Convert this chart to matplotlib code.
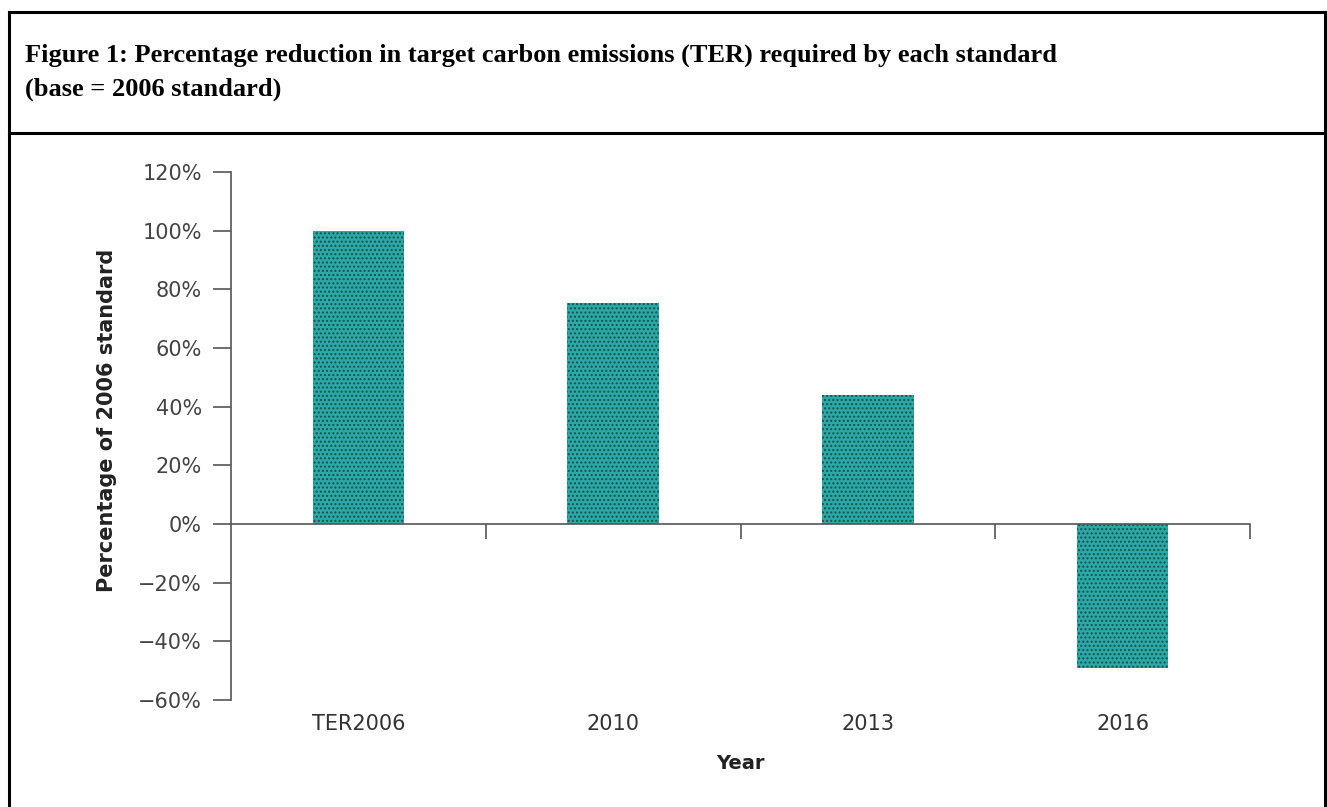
# IMPORTS
import matplotlib
matplotlib.use("Agg")
import matplotlib.pyplot as plt
from matplotlib.lines import Line2D
from matplotlib.ticker import FuncFormatter
import matplotlib.transforms as mtransforms


# DATA
standards = ["TER2006", "2010", "2013", "2016"]
ter_pct = [1.00, 0.755, 0.44, -0.49]
y_ticks = [-0.6, -0.4, -0.2, 0.0, 0.2, 0.4, 0.6, 0.8, 1.0, 1.2]

title_line_1 = "Figure 1: Percentage reduction in target carbon emissions (TER) required by each standard"
title_line_2 = "(base = 2006 standard)"


# FIGURE + FRAME
fig = plt.figure(figsize=(13.27, 8.07), dpi=100)
fig.patch.set_facecolor("white")

W, H = 1327.0, 807.0
frame_kw = dict(color="black", linewidth=2.2, transform=fig.transFigure)
fig.add_artist(Line2D([9 / W, 9 / W], [0, 1 - 12 / H], **frame_kw))
fig.add_artist(Line2D([1325 / W, 1325 / W], [0, 1 - 12 / H], **frame_kw))
fig.add_artist(Line2D([9 / W, 1325 / W], [1 - 12 / H, 1 - 12 / H], **frame_kw))
fig.add_artist(Line2D([9 / W, 1325 / W], [1 - 133 / H, 1 - 133 / H], **frame_kw))

fig.text(25 / W, 1 - 62 / H, title_line_1, fontsize=19, fontweight="bold",
         family="Liberation Serif", va="baseline", ha="left")
fig.text(25 / W, 1 - 96 / H, title_line_2, fontsize=19, fontweight="bold",
         family="Liberation Serif", va="baseline", ha="left")


# CHART
ax = fig.add_axes([231 / W, 1 - 700 / H, (1250 - 231) / W, (700 - 172) / H])
x_pos = list(range(len(standards)))
ax.bar(x_pos, ter_pct, width=0.36, color="#29aaa7", edgecolor="#1b4f4e",
       linewidth=0, hatch="....")

ax.set_xlim(-0.5, len(standards) - 0.5)
ax.set_ylim(y_ticks[0], y_ticks[-1])

axis_col = "#555555"
for side in ["top", "right"]:
    ax.spines[side].set_visible(False)
ax.spines["left"].set_color(axis_col)
ax.spines["left"].set_linewidth(1.2)
ax.spines["bottom"].set_position(("data", 0))
ax.spines["bottom"].set_color(axis_col)
ax.spines["bottom"].set_linewidth(1.2)

ax.set_yticks(y_ticks)
ax.yaxis.set_major_formatter(FuncFormatter(lambda v, p: "{:.0f}%".format(v * 100).replace("-", "\u2212")))
ax.tick_params(axis="y", direction="out", length=13, width=1.2, color=axis_col,
               labelsize=15, labelcolor="#444444", pad=8)

# ticks between categories on the zero line, labels at the bottom
ax.set_xticks([i + 0.5 for i in x_pos])
ax.set_xticklabels([])
ax.tick_params(axis="x", direction="out", length=11, width=1.2, color=axis_col)

trans = mtransforms.blended_transform_factory(ax.transData, ax.transAxes)
for i, name in enumerate(standards):
    ax.text(i, -0.045, name, transform=trans, ha="center", va="center",
            fontsize=15, color="#333333")

ax.text(0.5, -0.121, "Year", transform=ax.transAxes, ha="center", va="center",
        fontsize=14, fontweight="bold", color="#222222")
ax.set_ylabel("Percentage of 2006 standard", fontsize=15, fontweight="bold",
              color="#222222")
ax.yaxis.set_label_coords(-0.112, 0.53)

plt.savefig("out.png", dpi=100, facecolor="white")
